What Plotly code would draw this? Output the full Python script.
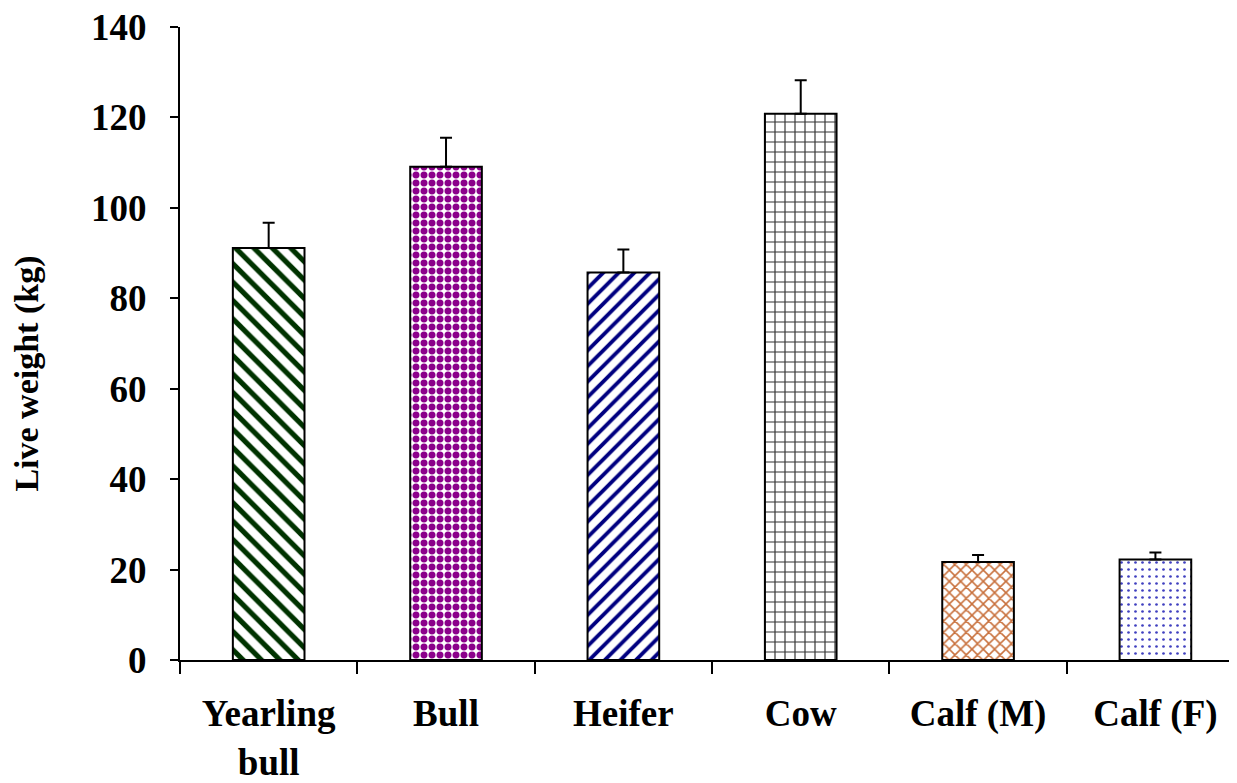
import plotly.graph_objects as go

categories = ["Yearling<br>bull", "Bull", "Heifer", "Cow", "Calf (M)", "Calf (F)"]
live_weight = [91.1, 109.1, 85.7, 120.8, 21.7, 22.2]
std_error = [5.6, 6.4, 5.1, 7.4, 1.5, 1.6]
y_ticks = [0, 20, 40, 60, 80, 100, 120, 140]

pattern_shapes = ["\\", ".", "/", "+", "x", "."]
pattern_colors = ["#003300", "#8B008B", "#000080", "#333333", "#C8703C", "#4040C0"]
pattern_sizes = [13, 8, 11, 10, 8, 7]
pattern_solidity = [0.4, 0.6, 0.35, 0.22, 0.35, 0.12]

fig = go.Figure(go.Bar(
    x=categories,
    y=live_weight,
    width=0.404,
    marker=dict(
        color="white",
        line=dict(color="black", width=2),
        pattern=dict(shape=pattern_shapes, fgcolor=pattern_colors, bgcolor="white",
                     size=pattern_sizes, solidity=pattern_solidity, fillmode="replace"),
    ),
    error_y=dict(type="data", symmetric=False, array=std_error,
                 arrayminus=[0] * len(std_error), color="black", thickness=2, width=6),
))

font_family = "Liberation Serif, Times New Roman, serif"
fig.update_layout(
    width=1229, height=775,
    margin=dict(l=172, r=0, t=19, b=123, autoexpand=False),
    plot_bgcolor="white", paper_bgcolor="white",
    font=dict(family=font_family, color="black", weight="bold"),
    showlegend=False,
)
fig.update_xaxes(
    type="category",
    range=[-0.5, 5.46],
    automargin=False,
    showline=True, linecolor="black", linewidth=2,
    ticks="outside", ticklen=12, tickwidth=2, tickcolor="black",
    tickson="boundaries",
    tickfont=dict(size=37, family=font_family, weight="bold"),
    ticklabelstandoff=20,
    ticklabeloverflow="allow",
    showgrid=False, zeroline=False,
)
fig.update_yaxes(
    range=[0, 140],
    tickvals=y_ticks,
    automargin=False,
    showline=True, linecolor="black", linewidth=2,
    ticks="outside", ticklen=8, tickwidth=2, tickcolor="black",
    tickfont=dict(size=37, family=font_family, weight="bold"),
    ticklabelstandoff=16,
    ticklabeloverflow="allow",
    showgrid=False, zeroline=False,
)
fig.add_annotation(
    text="Live weight (kg)", textangle=-90,
    xref="paper", yref="paper", x=-0.145, y=0.452,
    xanchor="center", yanchor="middle", showarrow=False,
    font=dict(size=34, family=font_family, weight="bold", color="black"),
)
fig.write_html("out.html")
